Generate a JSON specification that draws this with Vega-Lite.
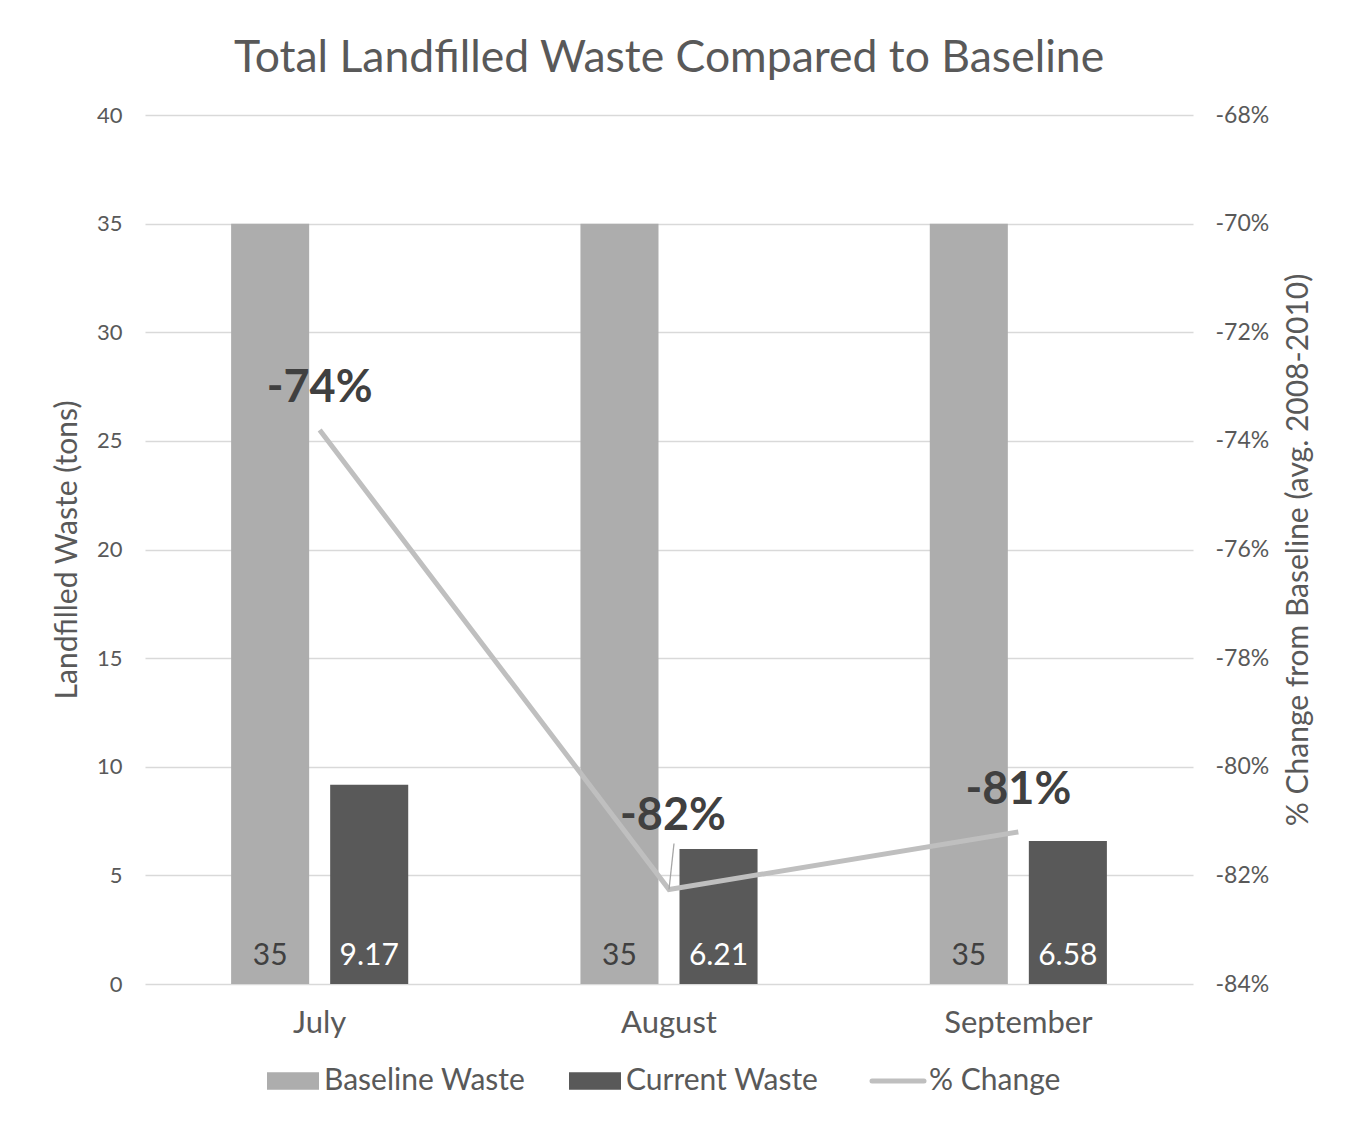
{
  "$schema": "https://vega.github.io/schema/vega-lite/v6.json",
  "width": 1048,
  "height": 869,
  "padding": {"left": 52, "top": 35, "right": 30, "bottom": 20},
  "background": "white",
  "title": {
    "text": "Total Landfilled Waste Compared to Baseline",
    "fontSize": 44.5,
    "fontWeight": "normal",
    "font": "Lato",
    "color": "#595959",
    "anchor": "middle",
    "offset": 23
  },
  "config": {
    "view": {"stroke": null},
    "font": "Lato",
    "locale": {
      "number": {"decimal": ".", "thousands": ",", "grouping": [3], "currency": ["$", ""], "minus": "-"}
    },
    "axis": {
      "labelFont": "Lato",
      "titleFont": "Lato",
      "labelColor": "#595959",
      "titleColor": "#595959",
      "titleFontWeight": "normal",
      "domain": false,
      "ticks": false
    },
    "legend": {
      "orient": "bottom",
      "direction": "horizontal",
      "labelFont": "Lato",
      "labelFontSize": 30,
      "labelColor": "#595959",
      "labelOffset": 16,
      "columnPadding": 43,
      "symbolSize": 2704,
      "symbolType": "M-1,-0.34H1V0.34H-1Z",
      "symbolStrokeWidth": 0,
      "labelLimit": 400,
      "offset": 28,
      "layout": {"bottom": {"anchor": "middle"}}
    }
  },
  "datasets": {
    "waste": [
      {"month": "July", "series": "Baseline Waste", "tons": 35},
      {"month": "July", "series": "Current Waste", "tons": 9.17},
      {"month": "August", "series": "Baseline Waste", "tons": 35},
      {"month": "August", "series": "Current Waste", "tons": 6.21},
      {"month": "September", "series": "Baseline Waste", "tons": 35},
      {"month": "September", "series": "Current Waste", "tons": 6.58}
    ],
    "change": [
      {"month": "July", "pct": -0.738},
      {"month": "August", "pct": -0.8226},
      {"month": "September", "pct": -0.812}
    ]
  },
  "encoding": {
    "x": {
      "field": "month",
      "type": "nominal",
      "sort": ["July", "August", "September"],
      "scale": {"paddingInner": 0.493, "paddingOuter": 0.2465},
      "axis": {"title": null, "labelAngle": 0, "labelFontSize": 31, "labelPadding": 24, "grid": false}
    }
  },
  "layer": [
    {
      "data": {"name": "waste"},
      "encoding": {
        "xOffset": {
          "field": "series",
          "type": "nominal",
          "scale": {"domain": ["Baseline Waste", "Current Waste"], "paddingInner": 0.212, "paddingOuter": 0}
        }
      },
      "layer": [
        {
          "mark": {"type": "bar"},
          "encoding": {
            "y": {
              "field": "tons",
              "type": "quantitative",
              "scale": {"domain": [0, 40], "nice": false},
              "axis": {
                "title": "Landfilled Waste (tons)",
                "titleFontSize": 30,
                "titlePadding": 14,
                "labelFontSize": 22,
                "labelPadding": 23,
                "values": [0, 5, 10, 15, 20, 25, 30, 35, 40],
                "grid": true,
                "gridColor": "#d9d9d9",
                "gridWidth": 1.5
              }
            },
            "color": {
              "field": "series",
              "type": "nominal",
              "scale": {
                "domain": ["Baseline Waste", "Current Waste", "% Change"],
                "range": ["#adadad", "#595959", "#bfbfbf"]
              },
              "legend": {
                "title": null,
                "encode": {
                  "symbols": {
                    "update": {
                      "shape": {"signal": "datum.value === '% Change' ? 'stroke' : 'M-1,-0.34H1V0.34H-1Z'"},
                      "fill": {"signal": "datum.value === '% Change' ? 'transparent' : scale('color', datum.value)"},
                      "stroke": {"signal": "datum.value === '% Change' ? '#bfbfbf' : 'transparent'"},
                      "strokeWidth": {"signal": "datum.value === '% Change' ? 5 : 0"},
                      "strokeCap": {"value": "round"}
                    }
                  }
                }
              }
            }
          }
        },
        {
          "mark": {"type": "text", "fontSize": 30, "baseline": "alphabetic", "dy": -19, "font": "Lato"},
          "encoding": {
            "y": {"datum": 0, "type": "quantitative"},
            "text": {"field": "tons", "type": "quantitative"},
            "color": {
              "condition": {"test": "datum.series === 'Current Waste'", "value": "#ffffff"},
              "value": "#404040"
            }
          }
        }
      ]
    },
    {
      "data": {"name": "change"},
      "encoding": {
        "y": {
          "field": "pct",
          "type": "quantitative",
          "scale": {"domain": [-0.84, -0.68], "nice": false, "zero": false},
          "axis": {
            "orient": "right",
            "title": "% Change from Baseline (avg. 2008-2010)",
            "titleFontSize": 30,
            "titleAngle": 270,
            "titlePadding": 45,
            "labelFontSize": 23,
            "labelPadding": 22,
            "format": ".0%",
            "values": [-0.84, -0.82, -0.8, -0.78, -0.76, -0.74, -0.72, -0.7, -0.68],
            "grid": false
          }
        }
      },
      "layer": [
        {
          "mark": {"type": "line", "strokeWidth": 5, "strokeCap": "butt"},
          "encoding": {
            "color": {"datum": "% Change"}
          }
        },
        {
          "transform": [{"filter": "datum.month === 'August'"}],
          "mark": {"type": "rule", "color": "#a6a6a6", "strokeWidth": 1.3, "y2Offset": -46, "x2Offset": 5},
          "encoding": {
            "x2": {"field": "month"},
            "y2": {"field": "pct"}
          }
        },
        {
          "transform": [{"filter": "datum.month !== 'August'"}],
          "mark": {"type": "text", "fontSize": 45, "fontWeight": "bold", "font": "Lato", "baseline": "alphabetic", "dy": -28, "color": "#404040"},
          "encoding": {
            "text": {"field": "pct", "type": "quantitative", "format": ".0%"}
          }
        },
        {
          "transform": [{"filter": "datum.month === 'August'"}],
          "mark": {"type": "text", "fontSize": 45, "fontWeight": "bold", "font": "Lato", "baseline": "alphabetic", "dy": -59, "dx": 4, "color": "#404040"},
          "encoding": {
            "text": {"field": "pct", "type": "quantitative", "format": ".0%"}
          }
        }
      ]
    }
  ],
  "resolve": {"scale": {"y": "independent"}}
}
